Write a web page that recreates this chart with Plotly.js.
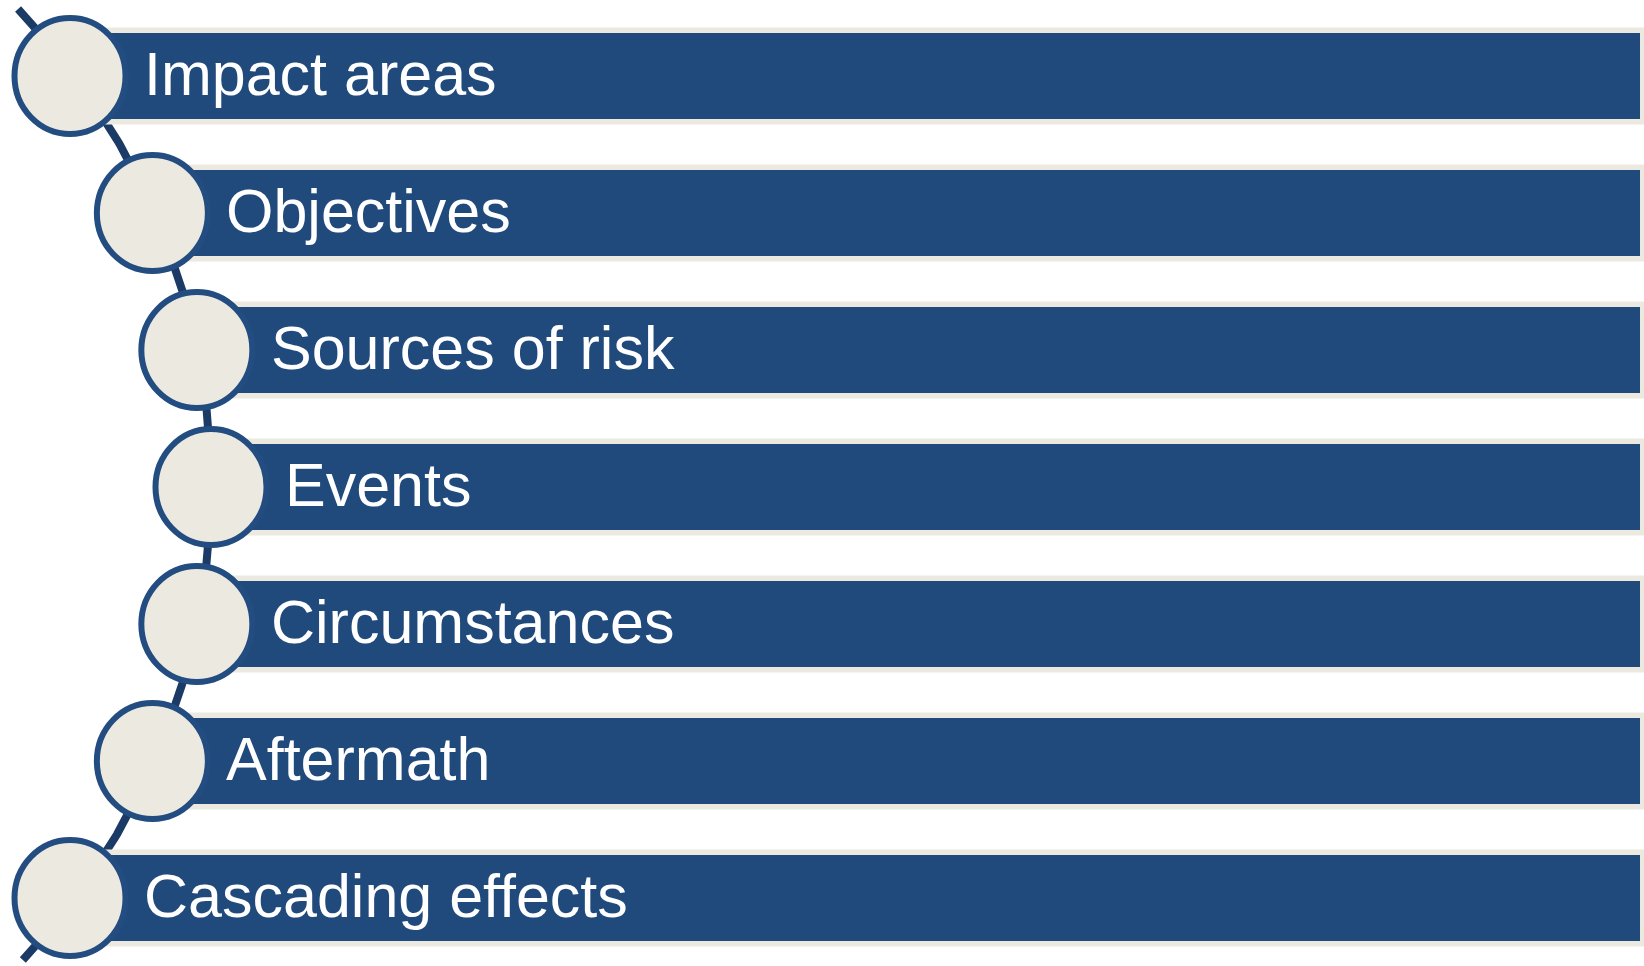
<!DOCTYPE html>
<html>
<head>
<meta charset="utf-8">
<script src="https://cdn.plot.ly/plotly-3.0.1.min.js"></script>
<style>html,body{margin:0;padding:0;background:#fff;}#chart{width:1644px;height:966px;}</style>
</head>
<body>
<div id="chart"></div>
<script>
// ---- data ----
const labels = ["Impact areas", "Objectives", "Sources of risk", "Events", "Circumstances", "Aftermath", "Cascading effects"];
const rowIndex = [0, 1, 2, 3, 4, 5, 6];

// ---- layout geometry (pixel-based axes) ----
const W = 1644, H = 966;
const ROW0 = 76, PITCH = 137;
const ringCx = -458.5, ringCy = 487, ringR = 669.5;   // arc the circles sit on
const lineCx = -477.6, lineCy = 487, lineR = 688.6;   // connector arc
const rowY = i => ROW0 + PITCH * i;
const arcX = (y, cx, cy, r) => cx + Math.sqrt(r * r - (y - cy) * (y - cy));

const BAR = "#214A7C", BEIGE = "#ECEAE0", RING = "#234D80", LINE = "#1B3B66";

// connector line
const lx = [], ly = [];
for (let y = 9; y <= 962; y += 3) { ly.push(y); lx.push(arcX(y, lineCx, lineCy, lineR)); }

const shapes = [];
const annotations = [];
rowIndex.forEach(i => {
  const y = rowY(i);
  const cx = arcX(y, ringCx, ringCy, ringR);
  // beige outer band
  shapes.push({type: "rect", xref: "x", yref: "y", layer: "above", x0: cx, x1: W, y0: y - 48.5, y1: y + 48.5,
    fillcolor: BEIGE, line: {width: 0}});
  // blue bar
  shapes.push({type: "rect", xref: "x", yref: "y", layer: "above", x0: cx, x1: W - 4, y0: y - 43, y1: y + 43,
    fillcolor: BAR, line: {width: 0}});
  annotations.push({x: cx + 72, y: y - 2, xref: "x", yref: "y", text: labels[i], showarrow: false,
    xanchor: "left", yanchor: "middle",
    font: {family: "Liberation Sans, Arial, sans-serif", size: 61, color: "#FFFFFF"}});
});
rowIndex.forEach(i => {
  const y = rowY(i);
  const cx = arcX(y, ringCx, ringCy, ringR);
  shapes.push({type: "circle", xref: "x", yref: "y", layer: "above", x0: cx - 55.5, x1: cx + 55.5, y0: y - 58, y1: y + 58,
    fillcolor: BEIGE, line: {color: RING, width: 6}});
});

const data = [{x: lx, y: ly, type: "scatter", mode: "lines", line: {color: LINE, width: 8}, hoverinfo: "skip", showlegend: false}];

const layout = {
  width: W, height: H,
  margin: {l: 0, r: 0, t: 0, b: 0},
  paper_bgcolor: "#FFFFFF", plot_bgcolor: "#FFFFFF",
  xaxis: {range: [0, W], visible: false, fixedrange: true},
  yaxis: {range: [H, 0], visible: false, fixedrange: true},
  shapes: shapes,
  annotations: annotations,
  showlegend: false
};

Plotly.newPlot("chart", data, layout, {displayModeBar: false, staticPlot: true});
</script>
</body>
</html>
